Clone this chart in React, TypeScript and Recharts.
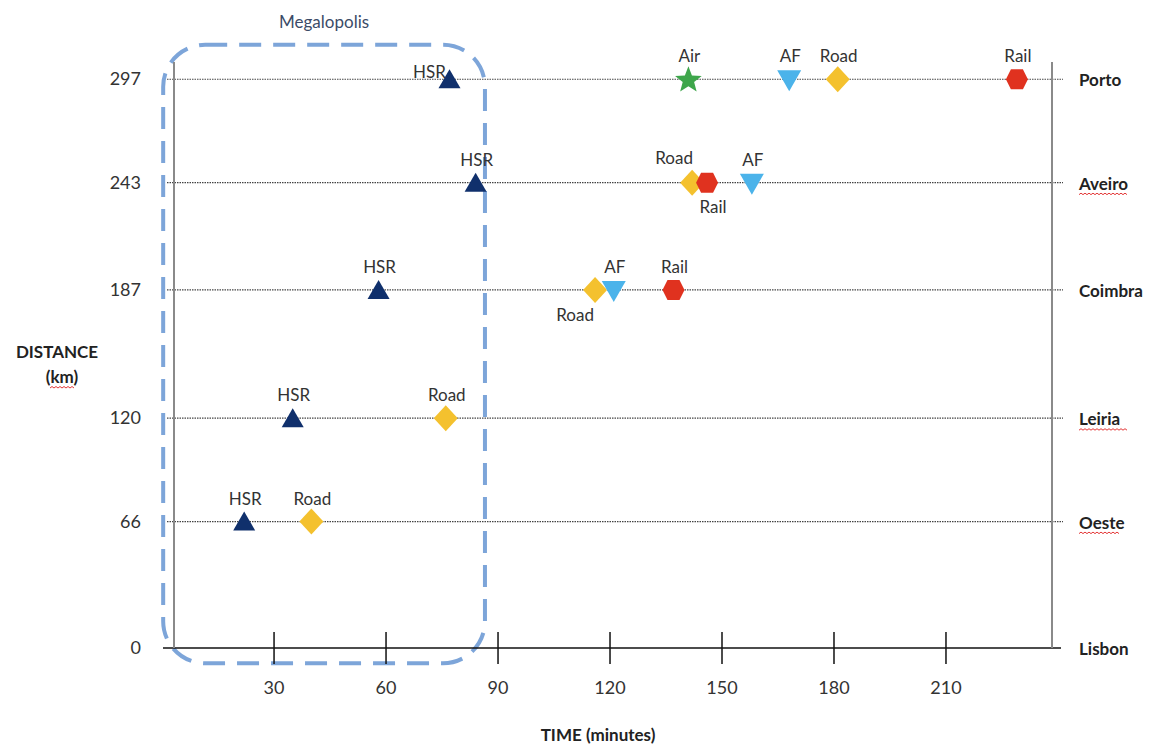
import React from 'react';
import {
  ScatterChart,
  Scatter,
  XAxis,
  YAxis,
  ReferenceLine,
  ReferenceArea,
  Customized,
} from 'recharts';

// ---------- data ----------
const cities = ['Lisbon', 'Oeste', 'Leiria', 'Coimbra', 'Aveiro', 'Porto'];
const distances = [0, 66, 120, 187, 243, 297];
const timeTicks = [30, 60, 90, 120, 150, 180, 210];

// travel time (minutes) per city, per mode (null = not shown)
const hsrTimes = [null, 22, 35, 58, 84, 77];
const roadTimes = [null, 40, 76, 116, 142, 181];
const railTimes = [null, null, null, 137, 146, 229];
const afTimes = [null, null, null, 121, 158, 168];
const airTimes = [null, null, null, null, null, 141];

// where each point's text label sits relative to its marker
const hsrLabelPos = ['', 'top', 'top', 'top', 'top', 'left'];
const roadLabelPos = ['', 'top', 'top', 'bottomLeft', 'topLeft', 'top'];
const railLabelPos = ['', '', '', 'top', 'bottom', 'top'];
const afLabelPos = ['', '', '', 'top', 'top', 'top'];
const airLabelPos = ['', '', '', '', '', 'top'];

// Megalopolis annotation extent (time, distance)
const megaTime = [0.3, 86.5];
const megaDist = [-8, 315];

const spellFlagged = ['Aveiro', 'Leiria', 'Oeste'];

// ---------- helpers ----------
const FONT = 'Lato, "Open Sans", sans-serif';

const build = (times: (number | null)[], pos: string[], mode: string) =>
  cities
    .map((c, i) => ({ city: c, time: times[i], dist: distances[i], pos: pos[i], mode }))
    .filter((d) => d.time !== null);

const hsrData = build(hsrTimes, hsrLabelPos, 'HSR');
const roadData = build(roadTimes, roadLabelPos, 'Road');
const railData = build(railTimes, railLabelPos, 'Rail');
const afData = build(afTimes, afLabelPos, 'AF');
const airData = build(airTimes, airLabelPos, 'Air');

const COLORS: Record<string, string> = {
  HSR: '#10306c',
  Road: '#f4c12e',
  Rail: '#e0321f',
  AF: '#4bb3ea',
  Air: '#3ea64b',
};

const labelOffset = (pos: string) => {
  switch (pos) {
    case 'left':
      return { dx: -20, dy: -7 };
    case 'topLeft':
      return { dx: -18, dy: -25 };
    case 'bottom':
      return { dx: 6, dy: 24 };
    case 'bottomLeft':
      return { dx: -20, dy: 25 };
    default:
      return { dx: 1, dy: -23 };
  }
};

const markerPath = (mode: string, cx: number, cy: number) => {
  switch (mode) {
    case 'HSR':
      return `M${cx},${cy - 10} L${cx + 11},${cy + 9} L${cx - 11},${cy + 9} Z`;
    case 'AF':
      return `M${cx - 12},${cy - 9} L${cx + 12},${cy - 9} L${cx},${cy + 12} Z`;
    case 'Road':
      return `M${cx},${cy - 13} L${cx + 12},${cy} L${cx},${cy + 13} L${cx - 12},${cy} Z`;
    case 'Rail':
      return `M${cx - 11},${cy} L${cx - 6},${cy - 10} L${cx + 6},${cy - 10} L${cx + 11},${cy} L${cx + 6},${cy + 10} L${cx - 6},${cy + 10} Z`;
    case 'Air': {
      const pts: string[] = [];
      for (let k = 0; k < 10; k++) {
        const r = k % 2 === 0 ? 14 : 6;
        const a = -Math.PI / 2 + (k * Math.PI) / 5;
        pts.push(`${cx + r * Math.cos(a)},${cy + 1 + r * Math.sin(a)}`);
      }
      return 'M' + pts.join(' L') + ' Z';
    }
    default:
      return '';
  }
};

const PointShape = (props: any) => {
  const { cx, cy, payload } = props;
  if (cx == null || cy == null) return null;
  const { dx, dy } = labelOffset(payload.pos);
  return (
    <g>
      <path d={markerPath(payload.mode, cx, cy)} fill={COLORS[payload.mode]} />
      <text
        x={cx + dx}
        y={cy + dy + 6}
        textAnchor="middle"
        fontSize={17}
        fill="#333"
        fontFamily={FONT}
      >
        {payload.mode}
      </text>
    </g>
  );
};

// thin red "spell-check" squiggle under a word
const Squiggle = ({ x, y, width }: { x: number; y: number; width: number }) => {
  let d = `M${x},${y}`;
  const step = 2;
  let up = true;
  for (let px = x + step; px <= x + width; px += step) {
    d += ` L${px},${y + (up ? -1.5 : 0)}`;
    up = !up;
  }
  return <path d={d} fill="none" stroke="#e02020" strokeWidth={0.9} />;
};

const LeftTick = (props: any) => {
  const { x, y, payload } = props;
  return (
    <text x={x} y={y + 6} textAnchor="end" fontSize={18} fill="#333" fontFamily={FONT}>
      {payload.value}
    </text>
  );
};

const RightTick = (props: any) => {
  const { x, y, payload } = props;
  const name = cities[distances.indexOf(payload.value)];
  const flagged = spellFlagged.includes(name);
  return (
    <g>
      <text
        x={x}
        y={y + 7}
        textAnchor="start"
        fontSize={17}
        fontWeight="bold"
        fill="#222"
        fontFamily={FONT}
      >
        {name}
      </text>
      {flagged ? <Squiggle x={x} y={y + 12} width={name.length * 8} /> : null}
    </g>
  );
};

const BottomTick = (props: any) => {
  const { x, y, payload } = props;
  return (
    <g>
      <line x1={x} x2={x} y1={y - 16} y2={y + 16} stroke="#111" strokeWidth={1.5} />
      <text x={x} y={y + 46} textAnchor="middle" fontSize={18} fill="#333" fontFamily={FONT}>
        {payload.value}
      </text>
    </g>
  );
};

const GridLine = (props: any) => {
  const { x1, x2, y1, y2 } = props;
  return (
    <line
      x1={x1 - 7}
      x2={x2 + 11}
      y1={y1}
      y2={y2}
      stroke="#444"
      strokeWidth={1.2}
      strokeDasharray="1.5 1"
    />
  );
};

const BaseLine = (props: any) => {
  const { x1, x2, y1, y2 } = props;
  return <line x1={x1 - 11} x2={x2 + 9} y1={y1} y2={y2} stroke="#111" strokeWidth={1.6} />;
};

const MegaBox = (props: any) => {
  const { x, y, width, height } = props;
  return (
    <rect
      x={x}
      y={y}
      width={width}
      height={height}
      rx={42}
      ry={42}
      fill="none"
      stroke="#6f9bd5"
      strokeOpacity={0.9}
      strokeWidth={4}
      strokeDasharray="22 12"
    />
  );
};

const Titles = () => (
  <g fontFamily={FONT} fontWeight="bold" fill="#222">
    <text x={598} y={741} textAnchor="middle" fontSize={17}>
      TIME (minutes)
    </text>
    <text x={57} y={358} textAnchor="middle" fontSize={17}>
      DISTANCE
    </text>
    <text x={62} y={383} textAnchor="middle" fontSize={17}>
      (km)
    </text>
    <Squiggle x={50} y={388} width={24} />
  </g>
);

export default function App() {
  return (
    <div
      style={{
        position: 'absolute',
        left: 0,
        top: 0,
        width: 1156,
        height: 744,
        background: '#fff',
        overflow: 'hidden',
      }}
    >
      <ScatterChart
        width={1156}
        height={744}
        margin={{ top: 62, right: 0, bottom: 0, left: 0 }}
      >
        <XAxis
          type="number"
          dataKey="time"
          domain={[3.2, 238.4]}
          ticks={timeTicks}
          interval={0}
          height={96}
          axisLine={false}
          tickLine={false}
          tickSize={0}
          tickMargin={0}
          tick={<BottomTick />}
        />
        <YAxis
          yAxisId="left"
          type="number"
          dataKey="dist"
          domain={[0, 306]}
          ticks={distances}
          interval={0}
          width={174}
          axisLine={{ stroke: '#8a8a8a', strokeWidth: 2 }}
          tickLine={false}
          tickSize={0}
          tickMargin={33}
          tick={<LeftTick />}
        />
        <YAxis
          yAxisId="right"
          orientation="right"
          type="number"
          domain={[0, 306]}
          allowDataOverflow
          ticks={distances}
          interval={0}
          width={104}
          axisLine={{ stroke: '#8a8a8a', strokeWidth: 2 }}
          tickLine={false}
          tickSize={0}
          tickMargin={27}
          tick={<RightTick />}
        />
        {distances
          .filter((d) => d > 0)
          .map((d) => (
            <ReferenceLine key={d} yAxisId="left" y={d} shape={<GridLine />} />
          ))}
        <ReferenceLine yAxisId="left" y={0} shape={<BaseLine />} />

        <Scatter yAxisId="left" data={hsrData} shape={<PointShape />} isAnimationActive={false} />
        <Scatter yAxisId="left" data={roadData} shape={<PointShape />} isAnimationActive={false} />
        <Scatter yAxisId="left" data={railData} shape={<PointShape />} isAnimationActive={false} />
        <Scatter yAxisId="left" data={afData} shape={<PointShape />} isAnimationActive={false} />
        <Scatter yAxisId="left" data={airData} shape={<PointShape />} isAnimationActive={false} />

        <ReferenceArea
          yAxisId="left"
          x1={megaTime[0]}
          x2={megaTime[1]}
          y1={megaDist[0]}
          y2={megaDist[1]}
          ifOverflow="visible"
          shape={<MegaBox />}
          label={{
            value: 'Megalopolis',
            position: 'top',
            offset: 17,
            fontSize: 17,
            fill: '#3b4b68',
            fontFamily: FONT,
          }}
        />
        <Customized component={<Titles />} />
      </ScatterChart>
    </div>
  );
}
